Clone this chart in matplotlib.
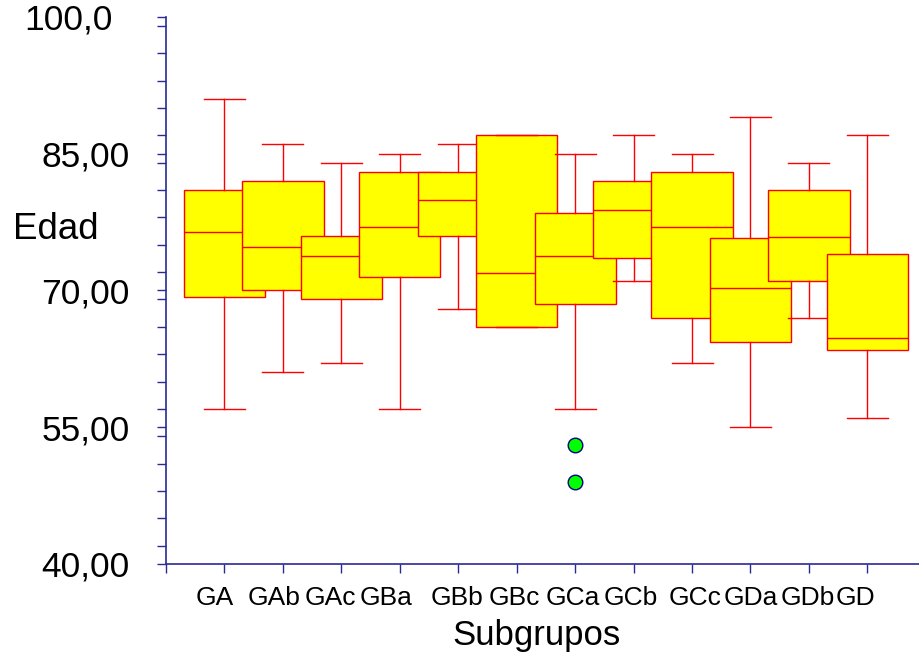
import matplotlib
matplotlib.use("Agg")
import matplotlib.pyplot as plt
from matplotlib.ticker import MultipleLocator, FixedLocator, FixedFormatter
from matplotlib.transforms import ScaledTranslation

plt.rcParams['font.family'] = ['Liberation Sans', 'DejaVu Sans']

categories = ["GA", "GAb", "GAc", "GBa", "GBb", "GBc", "GCa", "GCb", "GCc", "GDa", "GDb", "GD"]
whisker_low = [57.0, 61.0, 62.0, 57.0, 68.0, 66.0, 57.0, 71.0, 62.0, 55.0, 67.0, 56.0]
q1_values = [69.3, 70.0, 69.0, 71.5, 76.0, 66.0, 68.5, 73.5, 67.0, 64.3, 71.0, 63.5]
medians = [76.4, 74.8, 73.8, 76.9, 79.9, 71.9, 73.8, 78.8, 76.9, 70.3, 75.8, 64.8]
q3_values = [81.0, 82.0, 76.0, 83.0, 83.0, 87.0, 78.5, 82.0, 83.0, 75.7, 81.0, 74.0]
whisker_high = [91.0, 86.0, 84.0, 85.0, 86.0, 87.0, 85.0, 87.0, 85.0, 89.0, 84.0, 87.0]
outliers = [[], [], [], [], [], [], [53.0, 49.0], [], [], [], [], []]

y_major = [40, 55, 70, 85, 100]
y_labels = ["40,00", "55,00", "70,00", "85,00", "100,0"]

W, H = 920, 658
fig = plt.figure(figsize=(W / 100, H / 100), dpi=100)
ax = fig.add_axes([166 / W, 1 - 564 / H, 754 / W, (564 - 16.7) / H])

red = "#ff0000"
axis_col = "#2a2a96"

for i, cat in enumerate(categories):
    stats = [dict(med=medians[i], q1=q1_values[i], q3=q3_values[i],
                  whislo=whisker_low[i], whishi=whisker_high[i],
                  fliers=outliers[i], label=cat)]
    ax.bxp(stats, positions=[i + 1], widths=1.39, patch_artist=True,
           capwidths=0.7, zorder=2 + i,
           boxprops=dict(facecolor="#ffff00", edgecolor=red, linewidth=1.0),
           medianprops=dict(color=red, linewidth=1.0),
           whiskerprops=dict(color=red, linewidth=1.0),
           capprops=dict(color=red, linewidth=1.0),
           flierprops=dict(marker='o', markerfacecolor="#00ff00",
                           markeredgecolor="#000080", markersize=10.5,
                           markeredgewidth=1.0))

ax.set_xlim(0, 12.9)
ax.set_ylim(40, 100)

ax.xaxis.set_major_locator(FixedLocator(list(range(0, len(categories) + 1))))
ax.xaxis.set_major_formatter(FixedFormatter([""] + categories))
ax.yaxis.set_major_locator(FixedLocator(y_major))
ax.yaxis.set_major_formatter(FixedFormatter(y_labels))
ax.yaxis.set_minor_locator(MultipleLocator(3))

for s in ["top", "right"]:
    ax.spines[s].set_visible(False)
for s in ["left", "bottom"]:
    ax.spines[s].set_color(axis_col)
    ax.spines[s].set_linewidth(1.2)

ax.tick_params(axis='y', which='both', direction='out', length=6.5, width=1.0,
               color=axis_col, labelsize=25.5, pad=19.5)
ax.tick_params(axis='x', which='both', direction='out', length=6.5, width=1.0,
               color=axis_col, labelsize=19, pad=9.5)

# the top label sits further left in the reference
top_tick = ax.yaxis.get_major_ticks(len(y_major))[-1]
top_tick.label1.set_transform(top_tick.label1.get_transform() +
                              ScaledTranslation(-17 / 100, 0, fig.dpi_scale_trans))

# small horizontal shifts of the category labels, as laid out in the reference
x_label_shift_px = [0, -10, -9, -11, -14, -1, -2.5, -2, -2.5, 3, 0, -1.5, -11.5]
xticks = ax.xaxis.get_major_ticks(len(categories) + 1)
for tk, dx in zip(xticks, x_label_shift_px):
    tk.label1.set_transform(tk.label1.get_transform() +
                            ScaledTranslation(dx / 100, 0, fig.dpi_scale_trans))

ax.set_xlabel("Subgrupos", fontsize=25, va='baseline')
ax.xaxis.set_label_coords((537 - 166) / 754, (564 - 645) / 547.3)
ax.set_ylabel("Edad", fontsize=26.5, rotation=0, ha='left', va='center')
ax.yaxis.set_label_coords(-0.203, 0.612)

fig.savefig("out.png", dpi=100)
